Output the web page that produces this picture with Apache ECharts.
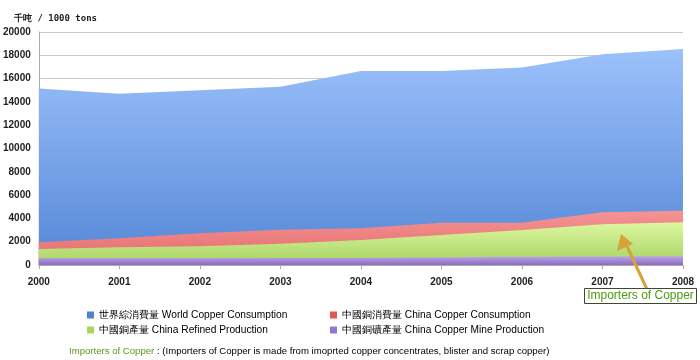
<!DOCTYPE html>
<html>
<head>
<meta charset="utf-8">
<script src="https://cdn.jsdelivr.net/npm/echarts@6/dist/echarts.min.js"></script>
<style>html,body{margin:0;padding:0;background:#fff}#c{width:700px;height:360px}</style>
</head>
<body>
<div id="c"></div>
<script>
var years = ['2000','2001','2002','2003','2004','2005','2006','2007','2008'];
var worldConsumption = [15150, 14700, 15000, 15300, 16650, 16650, 16950, 18100, 18550];
var chinaConsumption = [1950, 2290, 2720, 3030, 3150, 3630, 3630, 4520, 4660];
var chinaRefined = [1370, 1520, 1600, 1830, 2150, 2580, 3000, 3490, 3660];
var chinaMine = [590, 590, 570, 600, 610, 640, 700, 730, 760];
var seriesNames = ['世界綜消費量 World Copper Consumption', '中國銅消費量 China Copper Consumption', '中國銅產量 China Refined Production', '中國銅礦產量 China Copper Mine Production'];
var yTicks = {min: 0, max: 20000, interval: 2000};

function grad(top, bottom) {
  return new echarts.graphic.LinearGradient(0, 0, 0, 1, [{offset: 0, color: top}, {offset: 1, color: bottom}]);
}
var chart = echarts.init(document.getElementById('c'), null, {renderer: 'canvas'});
var legendText = {fontFamily: 'Liberation Sans, Arial', fontSize: 10.2, color: '#000'};
function mk(name, data, top, bottom, icon) {
  return {
    name: name, type: 'line', data: data, symbol: 'none', silent: true,
    lineStyle: {width: 0}, itemStyle: {color: icon},
    areaStyle: {color: grad(top, bottom), opacity: 1}
  };
}
chart.setOption({
  animation: false,
  title: [
    {text: '千吨 / 1000 tons', left: 9, top: 9, textStyle: {fontFamily: 'DejaVu Sans Mono', fontWeight: 'bold', fontSize: 9, color: '#222'}},
    {text: '{g|Importers of Copper}{k| : (Importers of Copper is made from imoprted copper concentrates, blister and scrap copper)}',
     left: 64, top: 341,
     textStyle: {fontWeight: 'normal', rich: {g: {color: '#5b9a1c', fontFamily: 'Liberation Sans, Arial', fontSize: 9.6, fontWeight: 'normal'}, k: {color: '#000', fontFamily: 'Liberation Sans, Arial', fontSize: 9.6, fontWeight: 'normal'}}}}
  ],
  legend: [
    {data: [seriesNames[0], seriesNames[2]], orient: 'vertical', left: 82, top: 305, itemGap: 5, itemWidth: 7, itemHeight: 7, icon: 'rect', textStyle: legendText, selectedMode: false},
    {data: [seriesNames[1], seriesNames[3]], orient: 'vertical', left: 325, top: 305, itemGap: 5, itemWidth: 7, itemHeight: 7, icon: 'rect', textStyle: legendText, selectedMode: false}
  ],
  grid: {left: 38, right: 17, top: 32, bottom: 95},
  xAxis: {
    type: 'category', data: years, boundaryGap: false,
    axisLine: {lineStyle: {color: '#aaa'}},
    axisTick: {lineStyle: {color: '#aaa'}, length: 4},
    axisLabel: {fontFamily: 'Liberation Sans, Arial', fontWeight: 'bold', fontSize: 10, color: '#222', margin: 12}
  },
  yAxis: {
    type: 'value', min: yTicks.min, max: yTicks.max, interval: yTicks.interval,
    axisLine: {show: true, lineStyle: {color: '#aaa'}},
    axisTick: {show: false},
    splitLine: {lineStyle: {color: '#c8c8c8'}},
    axisLabel: {fontFamily: 'Liberation Sans, Arial', fontWeight: 'bold', fontSize: 10, color: '#222', margin: 8, formatter: function (v) { return String(v); }}
  },
  series: [
    mk(seriesNames[0], worldConsumption, '#9cc1fb', '#5587d6', '#4f81d3'),
    mk(seriesNames[1], chinaConsumption, '#f59494', '#e36a6a', '#e05555'),
    mk(seriesNames[2], chinaRefined, '#dcf7a0', '#a6d263', '#a7d65a'),
    mk(seriesNames[3], chinaMine, '#bba4ea', '#8c6cc0', '#9575cd')
  ],
  graphic: [
    {type: 'line', z: 100, shape: {x1: 651, y1: 298, x2: 626, y2: 244}, style: {stroke: '#d6a239', lineWidth: 3}},
    {type: 'polygon', z: 100, shape: {points: [[621, 234], [617, 251], [633, 244]]}, style: {fill: '#d6a239'}},
    {type: 'rect', z: 101, shape: {x: 584.5, y: 288.5, width: 112, height: 15}, style: {fill: '#fff', stroke: '#3d4a2a', lineWidth: 1}},
    {type: 'text', z: 102, x: 640.5, y: 296, style: {text: 'Importers of Copper', fill: '#4e9a10', fontFamily: 'Liberation Sans, Arial', fontSize: 12, align: 'center', verticalAlign: 'middle'}}
  ]
});
</script>
</body>
</html>
